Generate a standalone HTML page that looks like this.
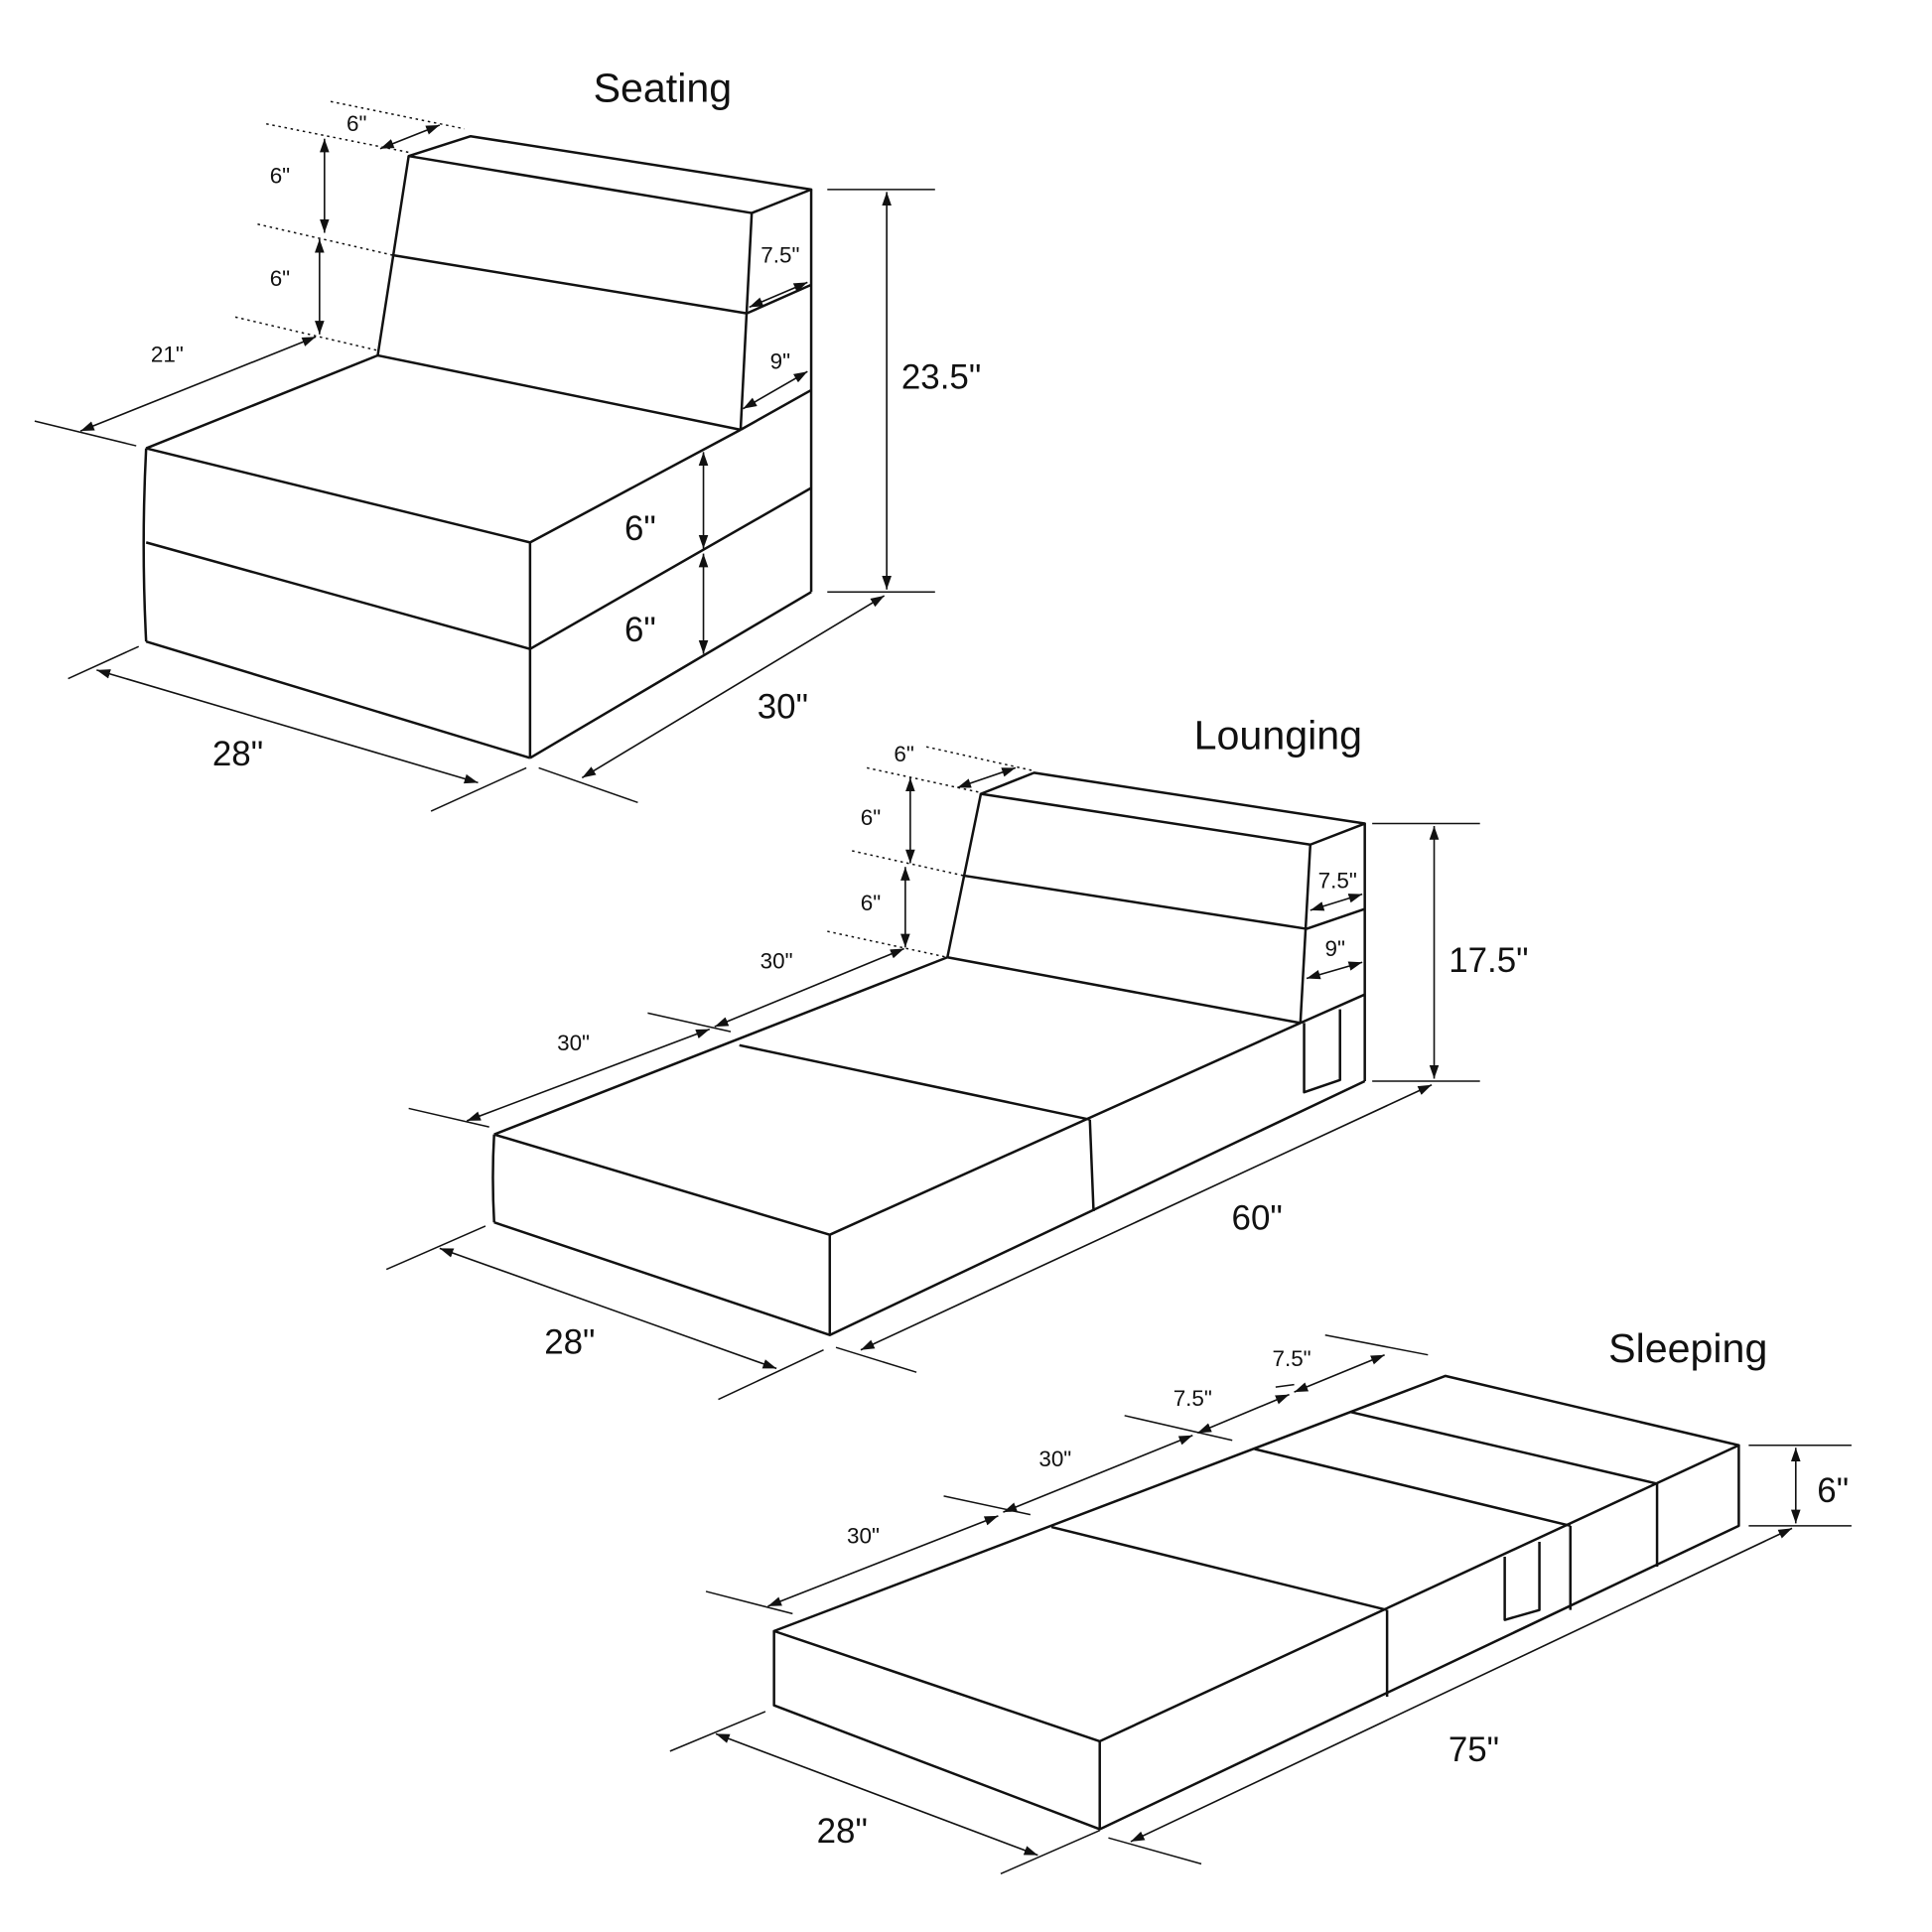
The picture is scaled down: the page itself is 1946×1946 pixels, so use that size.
<!DOCTYPE html>
<html><head><meta charset="utf-8"><style>
html,body{margin:0;padding:0;background:#fff}
svg{display:block}
text{font-family:"Liberation Sans",sans-serif;fill:#111;text-anchor:middle}
</style></head><body>
<svg width="1946" height="1946" viewBox="0 0 1560 1560" xmlns="http://www.w3.org/2000/svg">
<defs>
<marker id="e" viewBox="0 0 10 10" refX="10" refY="5" markerWidth="11" markerHeight="11" markerUnits="userSpaceOnUse" orient="auto"><path d="M0,1.5 L10,5 L0,8.5 z" fill="#111"/></marker>
<marker id="s" viewBox="0 0 10 10" refX="0" refY="5" markerWidth="11" markerHeight="11" markerUnits="userSpaceOnUse" orient="auto"><path d="M10,1.5 L0,5 L10,8.5 z" fill="#111"/></marker>
</defs>
<g fill="none" stroke="#111" stroke-width="2" stroke-linejoin="round">
<!-- Seating -->
<path d="M330,126 L380,110 L655,153 L607,172 Z"/>
<path d="M330,126 L305,287 M317,206 L603,253 M305,287 L598,347 M607,172 L598,347 M655,153 L655,478 M603,253 L655,230 M598,347 L655,315"/>
<path d="M118,362 L305,287 M118,362 L428,438 L598,347 M118,362 Q114,440 118,518 M428,438 L428,612 M118,438 L428,524 M118,518 L428,612 M428,524 L655,394 M428,612 L655,478"/>
<!-- Lounging -->
<path d="M792,641 L835,624 L1102,665 L1058,682 Z"/>
<path d="M792,641 L765,773 M778,707 L1055,750 M765,773 L1050,826 M1058,682 L1050,826 M1102,665 L1102,873 M1055,750 L1102,734 M1050,826 L1102,803"/>
<path d="M399,916 L765,773 M597,844 L880,904 M399,916 L670,997 L1050,826 M399,916 Q397,950 399,987 M670,997 L670,1078 M399,987 L670,1078 L1102,873 M880,904 L883,978"/>
<path d="M1053,826 L1053,882 L1082,872 L1082,815"/>
<!-- Sleeping -->
<path d="M625,1317 L1167,1111 L1404,1167 L888,1406 Z"/>
<path d="M849,1233 L1120,1300 M1013,1170 L1268,1232 M1090,1140 L1338,1198"/>
<path d="M625,1317 L625,1377 L888,1477 L1404,1232 L1404,1167 M888,1406 L888,1477 M1120,1300 L1120,1370 M1268,1232 L1268,1300 M1338,1198 L1338,1265"/>
<path d="M1215,1257 L1215,1308 L1243,1300 L1243,1245"/>
</g>
<!-- extension lines -->
<g stroke="#111" stroke-width="1.2" fill="none">
<path d="M668,153 L755,153 M668,478 L755,478 M435,620 L515,648 M55,548 L112,522 M348,655 L425,620 M28,340 L110,360"/>
<path d="M1108,665 L1195,665 M1108,873 L1195,873 M675,1088 L740,1108 M312,1025 L392,990 M580,1130 L665,1090 M330,895 L395,910 M523,818 L590,833"/>
<path d="M1412,1167 L1495,1167 M1412,1232 L1495,1232 M895,1484 L970,1505 M541,1414 L618,1382 M808,1513 L888,1478 M570,1285 L640,1303 M762,1208 L832,1223 M908,1143 L995,1163 M1030,1120 L1045,1118 M1070,1078 L1153,1094"/>
</g>
<g stroke="#111" stroke-width="1.2" fill="none" stroke-dasharray="2,3">
<path d="M215,100 L330,123 M208,181 L317,206 M190,256 L305,283 M267,82 L375,104"/>
<path d="M700,620 L792,640 M688,687 L778,707 M668,752 L765,773 M748,603 L833,622"/>
</g>
<!-- arrows -->
<g stroke="#111" stroke-width="1.3" fill="none" marker-start="url(#s)" marker-end="url(#e)">
<path d="M716,155 L716,476"/><path d="M470,628 L714,481"/><path d="M78,541 L386,632"/>
<path d="M568,365 L568,443"/><path d="M568,447 L568,528"/><path d="M65,348 L255,272"/>
<path d="M262,112 L262,188"/><path d="M258,193 L258,270"/><path d="M307,120 L355,101"/>
<path d="M605,248 L652,228"/><path d="M600,330 L652,300"/>
<path d="M1158,667 L1158,871"/><path d="M695,1090 L1156,876"/><path d="M355,1008 L627,1105"/>
<path d="M377,905 L573,831"/><path d="M577,829 L730,766"/><path d="M735,628 L735,697"/>
<path d="M731,700 L731,765"/><path d="M773,636 L820,620"/><path d="M1058,735 L1100,722"/>
<path d="M1055,790 L1100,777"/>
<path d="M1450,1169 L1450,1230"/><path d="M913,1487 L1447,1234"/><path d="M578,1400 L838,1498"/>
<path d="M620,1297 L806,1224"/><path d="M810,1221 L963,1159"/><path d="M967,1157 L1041,1126"/>
<path d="M1045,1124 L1118,1094"/>
</g>
<!-- labels -->
<text x="535" y="82" font-size="33">Seating</text>
<text x="760" y="314" font-size="28">23.5"</text>
<text x="632" y="580" font-size="28">30"</text>
<text x="192" y="618" font-size="28">28"</text>
<text x="517" y="436" font-size="28">6"</text>
<text x="517" y="518" font-size="28">6"</text>
<text x="135" y="292" font-size="18">21"</text>
<text x="226" y="148" font-size="18">6"</text>
<text x="226" y="231" font-size="18">6"</text>
<text x="288" y="106" font-size="18">6"</text>
<text x="630" y="212" font-size="18">7.5"</text>
<text x="630" y="298" font-size="18">9"</text>

<text x="1032" y="605" font-size="33">Lounging</text>
<text x="1202" y="785" font-size="28">17.5"</text>
<text x="1015" y="993" font-size="28">60"</text>
<text x="460" y="1093" font-size="28">28"</text>
<text x="463" y="848" font-size="18">30"</text>
<text x="627" y="782" font-size="18">30"</text>
<text x="703" y="666" font-size="18">6"</text>
<text x="703" y="735" font-size="18">6"</text>
<text x="730" y="615" font-size="18">6"</text>
<text x="1080" y="717" font-size="18">7.5"</text>
<text x="1078" y="772" font-size="18">9"</text>

<text x="1363" y="1100" font-size="33">Sleeping</text>
<text x="1480" y="1213" font-size="28">6"</text>
<text x="1190" y="1422" font-size="28">75"</text>
<text x="680" y="1488" font-size="28">28"</text>
<text x="697" y="1246" font-size="18">30"</text>
<text x="852" y="1184" font-size="18">30"</text>
<text x="963" y="1135" font-size="18">7.5"</text>
<text x="1043" y="1103" font-size="18">7.5"</text>
</svg>
</body></html>
